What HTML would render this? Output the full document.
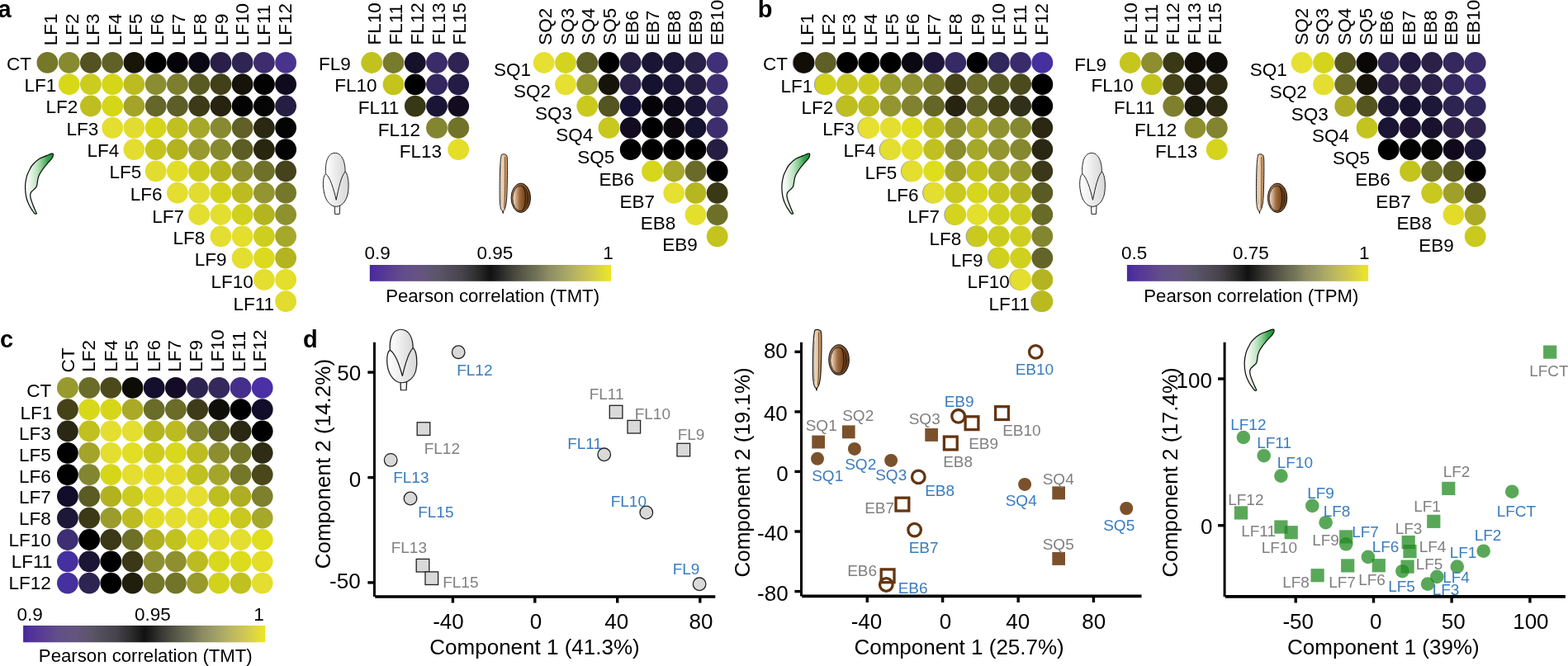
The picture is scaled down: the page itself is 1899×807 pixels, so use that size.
<!DOCTYPE html>
<html><head><meta charset="utf-8"><title>Figure</title>
<style>html,body{margin:0;padding:0;background:#fff;overflow:hidden}svg{display:block}</style>
</head><body><svg width="1899" height="807" viewBox="0 0 1899 807" font-family="'Liberation Sans', Arial, Helvetica, sans-serif"><defs><linearGradient id="cbg" x1="0" x2="1" y1="0" y2="0"><stop offset="0" stop-color="#4527A0"/><stop offset="0.03" stop-color="#50329A"/><stop offset="0.076" stop-color="#5A3C94"/><stop offset="0.144" stop-color="#624E89"/><stop offset="0.213" stop-color="#645480"/><stop offset="0.281" stop-color="#5B5568"/><stop offset="0.384" stop-color="#46434C"/><stop offset="0.452" stop-color="#2A2A2A"/><stop offset="0.5" stop-color="#111111"/><stop offset="0.528" stop-color="#1F201E"/><stop offset="0.57" stop-color="#383934"/><stop offset="0.612" stop-color="#4E4E42"/><stop offset="0.654" stop-color="#61634F"/><stop offset="0.696" stop-color="#737558"/><stop offset="0.738" stop-color="#8C8A62"/><stop offset="0.78" stop-color="#9A9A66"/><stop offset="0.822" stop-color="#ABAA65"/><stop offset="0.864" stop-color="#BDB860"/><stop offset="0.906" stop-color="#CCC455"/><stop offset="0.948" stop-color="#D9D445"/><stop offset="0.989" stop-color="#EBE32A"/><stop offset="1" stop-color="#EEE22A"/></linearGradient><linearGradient id="leafg" gradientUnits="userSpaceOnUse" x1="31" y1="0" x2="63" y2="0"><stop offset="0" stop-color="#ffffff"/><stop offset="0.15" stop-color="#eef8ee"/><stop offset="0.4" stop-color="#c4e5c6"/><stop offset="0.62" stop-color="#86cb90"/><stop offset="0.82" stop-color="#3aa952"/><stop offset="1" stop-color="#0f9a35"/></linearGradient><linearGradient id="flg" x1="0" x2="1" y1="0" y2="0"><stop offset="0" stop-color="#ffffff"/><stop offset="1" stop-color="#d8d8d8"/></linearGradient><linearGradient id="hullg" x1="0" x2="1" y1="0" y2="0"><stop offset="0" stop-color="#fbeee0"/><stop offset="0.5" stop-color="#e8c49c"/><stop offset="1" stop-color="#c89060"/></linearGradient><linearGradient id="seedg" x1="0" x2="1" y1="0" y2="0"><stop offset="0" stop-color="#f6e6d6"/><stop offset="0.45" stop-color="#a06a3c"/><stop offset="1" stop-color="#5a300c"/></linearGradient><linearGradient id="seedo" x1="0" x2="1" y1="0" y2="0"><stop offset="0" stop-color="#b08058"/><stop offset="1" stop-color="#6a3a12"/></linearGradient><linearGradient id="leafg3" gradientUnits="userSpaceOnUse" x1="31" y1="0" x2="64" y2="0"><stop offset="0" stop-color="#ffffff"/><stop offset="0.35" stop-color="#d8efd8"/><stop offset="1" stop-color="#119a33"/></linearGradient></defs><rect width="100%" height="100%" fill="#fff"/><g font-size="22.5"><text transform="translate(68.7,55.3) rotate(-90)">LF1</text><text transform="translate(94.5,55.3) rotate(-90)">LF2</text><text transform="translate(120.0,55.3) rotate(-90)">LF3</text><text transform="translate(146.8,55.3) rotate(-90)">LF4</text><text transform="translate(171.5,55.3) rotate(-90)">LF5</text><text transform="translate(198.3,55.3) rotate(-90)">LF6</text><text transform="translate(224.2,55.3) rotate(-90)">LF7</text><text transform="translate(250.1,55.3) rotate(-90)">LF8</text><text transform="translate(275.5,55.3) rotate(-90)">LF9</text><text transform="translate(301.4,55.3) rotate(-90)">LF10</text><text transform="translate(327.0,55.3) rotate(-90)">LF11</text><text transform="translate(352.9,55.3) rotate(-90)">LF12</text><text x="38.0" y="84.5" text-anchor="end">CT</text><circle cx="57.4" cy="75.9" r="12.9" fill="#767829"/><circle cx="83.7" cy="75.9" r="12.9" fill="#878A2E"/><circle cx="109.9" cy="75.9" r="12.9" fill="#535220"/><circle cx="136.2" cy="75.9" r="12.9" fill="#606126"/><circle cx="162.4" cy="75.9" r="12.9" fill="#181609"/><circle cx="188.7" cy="75.9" r="12.9" fill="#000000"/><circle cx="214.9" cy="75.9" r="12.9" fill="#050308"/><circle cx="241.2" cy="75.9" r="12.9" fill="#0B0815"/><circle cx="267.4" cy="75.9" r="12.9" fill="#2A1F48"/><circle cx="293.6" cy="75.9" r="12.9" fill="#2F2552"/><circle cx="319.9" cy="75.9" r="12.9" fill="#3D2D6E"/><circle cx="346.1" cy="75.9" r="12.9" fill="#48338F"/><text x="68.2" y="110.7" text-anchor="end">LF1</text><circle cx="83.7" cy="102.2" r="12.9" fill="#D8D819"/><circle cx="109.9" cy="102.2" r="12.9" fill="#CCCC20"/><circle cx="136.2" cy="102.2" r="12.9" fill="#D6D618"/><circle cx="162.4" cy="102.2" r="12.9" fill="#BCBC22"/><circle cx="188.7" cy="102.2" r="12.9" fill="#8B8E30"/><circle cx="214.9" cy="102.2" r="12.9" fill="#7D7F2E"/><circle cx="241.2" cy="102.2" r="12.9" fill="#595A22"/><circle cx="267.4" cy="102.2" r="12.9" fill="#414018"/><circle cx="293.6" cy="102.2" r="12.9" fill="#16140A"/><circle cx="319.9" cy="102.2" r="12.9" fill="#020202"/><circle cx="346.1" cy="102.2" r="12.9" fill="#100B1C"/><text x="94.3" y="136.9" text-anchor="end">LF2</text><circle cx="109.9" cy="128.5" r="12.9" fill="#BEBE20"/><circle cx="136.2" cy="128.5" r="12.9" fill="#D6D618"/><circle cx="162.4" cy="128.5" r="12.9" fill="#A3A429"/><circle cx="188.7" cy="128.5" r="12.9" fill="#64662A"/><circle cx="214.9" cy="128.5" r="12.9" fill="#5C5D27"/><circle cx="241.2" cy="128.5" r="12.9" fill="#3D3A17"/><circle cx="267.4" cy="128.5" r="12.9" fill="#26240F"/><circle cx="293.6" cy="128.5" r="12.9" fill="#030303"/><circle cx="319.9" cy="128.5" r="12.9" fill="#050505"/><circle cx="346.1" cy="128.5" r="12.9" fill="#261D42"/><text x="119.2" y="164.0" text-anchor="end">LF3</text><circle cx="136.2" cy="154.8" r="12.9" fill="#E4DE30"/><circle cx="162.4" cy="154.8" r="12.9" fill="#E2DC30"/><circle cx="188.7" cy="154.8" r="12.9" fill="#D5D51B"/><circle cx="214.9" cy="154.8" r="12.9" fill="#C0C021"/><circle cx="241.2" cy="154.8" r="12.9" fill="#A6A82A"/><circle cx="267.4" cy="154.8" r="12.9" fill="#878A30"/><circle cx="293.6" cy="154.8" r="12.9" fill="#606027"/><circle cx="319.9" cy="154.8" r="12.9" fill="#2A2812"/><circle cx="346.1" cy="154.8" r="12.9" fill="#040404"/><text x="144.4" y="190.2" text-anchor="end">LF4</text><circle cx="162.4" cy="181.1" r="12.9" fill="#E3DD30"/><circle cx="188.7" cy="181.1" r="12.9" fill="#C5C41F"/><circle cx="214.9" cy="181.1" r="12.9" fill="#B3B21F"/><circle cx="241.2" cy="181.1" r="12.9" fill="#999A2D"/><circle cx="267.4" cy="181.1" r="12.9" fill="#87892E"/><circle cx="293.6" cy="181.1" r="12.9" fill="#5C5C25"/><circle cx="319.9" cy="181.1" r="12.9" fill="#28260F"/><circle cx="346.1" cy="181.1" r="12.9" fill="#030303"/><text x="171.4" y="216.4" text-anchor="end">LF5</text><circle cx="188.7" cy="207.4" r="12.9" fill="#E2DC30"/><circle cx="214.9" cy="207.4" r="12.9" fill="#E2DE28"/><circle cx="241.2" cy="207.4" r="12.9" fill="#CDCC1E"/><circle cx="267.4" cy="207.4" r="12.9" fill="#B4B41E"/><circle cx="293.6" cy="207.4" r="12.9" fill="#8E8F2E"/><circle cx="319.9" cy="207.4" r="12.9" fill="#6F7029"/><circle cx="346.1" cy="207.4" r="12.9" fill="#45421C"/><text x="196.5" y="242.6" text-anchor="end">LF6</text><circle cx="214.9" cy="233.7" r="12.9" fill="#E4DE30"/><circle cx="241.2" cy="233.7" r="12.9" fill="#E2DC30"/><circle cx="267.4" cy="233.7" r="12.9" fill="#D2D21C"/><circle cx="293.6" cy="233.7" r="12.9" fill="#BCBC21"/><circle cx="319.9" cy="233.7" r="12.9" fill="#929530"/><circle cx="346.1" cy="233.7" r="12.9" fill="#767829"/><text x="223.1" y="269.8" text-anchor="end">LF7</text><circle cx="241.2" cy="260.0" r="12.9" fill="#E4DE30"/><circle cx="267.4" cy="260.0" r="12.9" fill="#E4DE30"/><circle cx="293.6" cy="260.0" r="12.9" fill="#D0D01E"/><circle cx="319.9" cy="260.0" r="12.9" fill="#B4B420"/><circle cx="346.1" cy="260.0" r="12.9" fill="#8E912E"/><text x="248.4" y="295.9" text-anchor="end">LF8</text><circle cx="267.4" cy="286.3" r="12.9" fill="#E4DE30"/><circle cx="293.6" cy="286.3" r="12.9" fill="#E4DE2C"/><circle cx="319.9" cy="286.3" r="12.9" fill="#CECE1F"/><circle cx="346.1" cy="286.3" r="12.9" fill="#A6A82A"/><text x="274.6" y="322.1" text-anchor="end">LF9</text><circle cx="293.6" cy="312.6" r="12.9" fill="#E4DE30"/><circle cx="319.9" cy="312.6" r="12.9" fill="#DCDA20"/><circle cx="346.1" cy="312.6" r="12.9" fill="#B4B420"/><text x="306.7" y="349.3" text-anchor="end">LF10</text><circle cx="319.9" cy="338.9" r="12.9" fill="#E4DE30"/><circle cx="346.1" cy="338.9" r="12.9" fill="#E4DE2C"/><text x="332.1" y="375.5" text-anchor="end">LF11</text><circle cx="346.1" cy="365.2" r="12.9" fill="#E2DC2C"/></g><g font-size="22.5"><text transform="translate(460.6,54.5) rotate(-90)">FL10</text><text transform="translate(487.0,54.5) rotate(-90)">FL11</text><text transform="translate(512.5,54.5) rotate(-90)">FL12</text><text transform="translate(538.5,54.5) rotate(-90)">FL13</text><text transform="translate(564.1,54.5) rotate(-90)">FL15</text><text x="424.7" y="84.8" text-anchor="end">FL9</text><circle cx="450.2" cy="76.0" r="12.9" fill="#C2C21E"/><circle cx="476.5" cy="76.0" r="12.9" fill="#787A2C"/><circle cx="502.8" cy="76.0" r="12.9" fill="#15112A"/><circle cx="529.0" cy="76.0" r="12.9" fill="#3A2C68"/><circle cx="555.2" cy="76.0" r="12.9" fill="#2E2352"/><text x="456.5" y="111.1" text-anchor="end">FL10</text><circle cx="476.5" cy="102.3" r="12.9" fill="#C4C41C"/><circle cx="502.8" cy="102.3" r="12.9" fill="#000000"/><circle cx="529.0" cy="102.3" r="12.9" fill="#33275E"/><circle cx="555.2" cy="102.3" r="12.9" fill="#241C45"/><text x="483.4" y="137.6" text-anchor="end">FL11</text><circle cx="502.8" cy="128.6" r="12.9" fill="#383716"/><circle cx="529.0" cy="128.6" r="12.9" fill="#1A1535"/><circle cx="555.2" cy="128.6" r="12.9" fill="#130C20"/><text x="509.0" y="164.5" text-anchor="end">FL12</text><circle cx="529.0" cy="154.9" r="12.9" fill="#848530"/><circle cx="555.2" cy="154.9" r="12.9" fill="#727329"/><text x="535.1" y="190.8" text-anchor="end">FL13</text><circle cx="555.2" cy="181.2" r="12.9" fill="#E4DE28"/></g><g font-size="22.5"><text transform="translate(668.0,54.7) rotate(-90)">SQ2</text><text transform="translate(694.5,54.7) rotate(-90)">SQ3</text><text transform="translate(720.3,54.7) rotate(-90)">SQ4</text><text transform="translate(746.2,54.7) rotate(-90)">SQ5</text><text transform="translate(772.6,54.9) rotate(-90)">EB6</text><text transform="translate(798.1,54.9) rotate(-90)">EB7</text><text transform="translate(824.3,54.9) rotate(-90)">EB8</text><text transform="translate(850.0,54.9) rotate(-90)">EB9</text><text transform="translate(875.8,54.9) rotate(-90)">EB10</text><text x="643.1" y="92.3" text-anchor="end">SQ1</text><circle cx="658.7" cy="76.0" r="12.9" fill="#E6E032"/><circle cx="685.0" cy="76.0" r="12.9" fill="#D4D41E"/><circle cx="711.2" cy="76.0" r="12.9" fill="#5E6027"/><circle cx="737.5" cy="76.0" r="12.9" fill="#000000"/><circle cx="763.7" cy="76.0" r="12.9" fill="#261E42"/><circle cx="790.0" cy="76.0" r="12.9" fill="#1A1535"/><circle cx="816.2" cy="76.0" r="12.9" fill="#1C1638"/><circle cx="842.5" cy="76.0" r="12.9" fill="#2A2148"/><circle cx="868.7" cy="76.0" r="12.9" fill="#40307A"/><text x="667.0" y="118.4" text-anchor="end">SQ2</text><circle cx="685.0" cy="102.3" r="12.9" fill="#E6E032"/><circle cx="711.2" cy="102.3" r="12.9" fill="#979A2D"/><circle cx="737.5" cy="102.3" r="12.9" fill="#16140A"/><circle cx="763.7" cy="102.3" r="12.9" fill="#2A2048"/><circle cx="790.0" cy="102.3" r="12.9" fill="#151230"/><circle cx="816.2" cy="102.3" r="12.9" fill="#1C1638"/><circle cx="842.5" cy="102.3" r="12.9" fill="#261E42"/><circle cx="868.7" cy="102.3" r="12.9" fill="#3D2E72"/><text x="693.0" y="144.7" text-anchor="end">SQ3</text><circle cx="711.2" cy="128.6" r="12.9" fill="#CACA1E"/><circle cx="737.5" cy="128.6" r="12.9" fill="#545520"/><circle cx="763.7" cy="128.6" r="12.9" fill="#161235"/><circle cx="790.0" cy="128.6" r="12.9" fill="#050307"/><circle cx="816.2" cy="128.6" r="12.9" fill="#100B1C"/><circle cx="842.5" cy="128.6" r="12.9" fill="#1A1535"/><circle cx="868.7" cy="128.6" r="12.9" fill="#3D2E6C"/><text x="718.3" y="171.4" text-anchor="end">SQ4</text><circle cx="737.5" cy="154.9" r="12.9" fill="#C8C81E"/><circle cx="763.7" cy="154.9" r="12.9" fill="#130B20"/><circle cx="790.0" cy="154.9" r="12.9" fill="#000000"/><circle cx="816.2" cy="154.9" r="12.9" fill="#0A080E"/><circle cx="842.5" cy="154.9" r="12.9" fill="#151232"/><circle cx="868.7" cy="154.9" r="12.9" fill="#3D2E70"/><text x="744.3" y="198.1" text-anchor="end">SQ5</text><circle cx="763.7" cy="181.2" r="12.9" fill="#000000"/><circle cx="790.0" cy="181.2" r="12.9" fill="#000000"/><circle cx="816.2" cy="181.2" r="12.9" fill="#000000"/><circle cx="842.5" cy="181.2" r="12.9" fill="#000000"/><circle cx="868.7" cy="181.2" r="12.9" fill="#261D42"/><text x="768.0" y="225.0" text-anchor="end">EB6</text><circle cx="790.0" cy="207.5" r="12.9" fill="#D6D61C"/><circle cx="816.2" cy="207.5" r="12.9" fill="#A8A82A"/><circle cx="842.5" cy="207.5" r="12.9" fill="#6A6B28"/><circle cx="868.7" cy="207.5" r="12.9" fill="#000000"/><text x="793.0" y="251.5" text-anchor="end">EB7</text><circle cx="816.2" cy="233.8" r="12.9" fill="#E6E032"/><circle cx="842.5" cy="233.8" r="12.9" fill="#B6B620"/><circle cx="868.7" cy="233.8" r="12.9" fill="#3A3916"/><text x="818.3" y="277.6" text-anchor="end">EB8</text><circle cx="842.5" cy="260.1" r="12.9" fill="#E4DE2C"/><circle cx="868.7" cy="260.1" r="12.9" fill="#6E7028"/><text x="844.9" y="303.5" text-anchor="end">EB9</text><circle cx="868.7" cy="286.4" r="12.9" fill="#C4C41E"/></g><g transform="translate(0,0) scale(1.0,1.0)"><path d="M64.40,187.00 C64.50,187.90 64.03,189.90 63.00,191.60 C61.97,193.30 59.57,195.60 58.20,197.20 C56.83,198.80 56.07,199.60 54.80,201.20 C53.53,202.80 51.78,205.07 50.60,206.80 C49.42,208.53 48.48,209.93 47.70,211.60 C46.92,213.27 46.33,215.05 45.90,216.80 C45.47,218.55 45.42,220.48 45.10,222.10 C44.78,223.72 44.68,225.25 44.00,226.50 C43.32,227.75 42.02,228.57 41.00,229.60 C39.98,230.63 38.62,231.63 37.90,232.70 C37.18,233.77 36.78,234.60 36.70,236.00 C36.62,237.40 36.85,239.03 37.40,241.10 C37.95,243.17 39.00,245.83 40.00,248.40 C41.00,250.97 42.68,254.80 43.40,256.50 C44.12,258.20 44.37,258.15 44.30,258.60 C44.23,259.05 43.52,259.33 43.00,259.20 C42.48,259.07 42.40,259.42 41.20,257.80 C40.00,256.18 37.37,252.63 35.80,249.50 C34.23,246.37 32.67,243.03 31.80,239.00 C30.93,234.97 30.50,229.52 30.60,225.30 C30.70,221.08 31.57,216.87 32.40,213.70 C33.23,210.53 34.47,208.58 35.60,206.30 C36.73,204.02 37.23,202.28 39.20,200.00 C41.17,197.72 44.47,194.53 47.40,192.60 C50.33,190.67 54.30,189.47 56.80,188.40 C59.30,187.33 61.13,186.43 62.40,186.20 C63.67,185.97 64.30,186.10 64.40,187.00 Z" fill="url(#leafg)" stroke="#111" stroke-width="1.25" stroke-linejoin="round"/></g><g transform="translate(0,0) scale(1.0,1.0)"><path d="M394.6,212 C393.6,200 395.5,186 405.2,185.4 C414.5,185 418.3,197 418.1,209 L407.2,242.3 Z" fill="url(#flg)" stroke="#222" stroke-width="1.00"/><path d="M405.2,249.5 L405.6,259.4 L411.2,259.4 L411.7,249.5 Z" fill="#f6f6f6" stroke="#222" stroke-width="1.00"/><path d="M394.5,210.6 C390.0,214 390.5,232 395.0,241 C398.2,247.5 403.0,250.5 407.5,250.3 C413.0,250 419.0,245 421.2,235 C423.0,225 422.0,212 418.3,207.9 C413.5,212.5 410.0,228 407.2,242.3 C404.2,229 399.5,214 394.5,210.6 Z" fill="url(#flg)" stroke="#222" stroke-width="1.00"/></g><g transform="translate(0,0)"><g transform="translate(605,186.8) scale(1.0000,1.0000) translate(-605,-186.8)"><path d="M607.3,187.6 C608.6,186.3 612.2,186.4 613.9,188.6 C614.9,191.5 614.6,215 613.9,236 C613.4,248 611.8,253.8 609.6,255.8 L609.2,258.6 L608.7,255.9 C606.4,254.8 605.3,249 605.2,238 C605.0,218 605.4,196 607.3,187.6 Z" fill="url(#hullg)" stroke="#1a1a1a" stroke-width="1.00"/><path d="M611.6,190 C611.9,210 611.8,235 610.8,252" fill="none" stroke="#3a2a1a" stroke-width="0.70"/><path d="M606.8,200 C606.5,215 606.6,235 607.0,248" fill="none" stroke="#777" stroke-width="0.50"/></g><ellipse cx="630.8" cy="239.8" rx="11.70" ry="17.75" fill="url(#seedo)" stroke="#1a1a1a" stroke-width="1.00"/><ellipse cx="630.20" cy="240.40" rx="9.32" ry="15.25" fill="url(#seedg)" stroke="#1a1a1a" stroke-width="0.80"/><path d="M633.46,225.64 C637.45,232.54 637.45,247.97 632.98,254.86" fill="none" stroke="#1a0e04" stroke-width="0.80"/></g><rect x="447.8" y="321" width="292.2" height="19.8" fill="url(#cbg)"/><text x="457.2" y="313.8" text-anchor="middle" font-size="22.5">0.9</text><text x="599.5" y="313.8" text-anchor="middle" font-size="22.5">0.95</text><text x="736.5" y="313.8" text-anchor="middle" font-size="22.5">1</text><text x="596.6" y="365.8" text-anchor="middle" font-size="22.2">Pearson correlation (TMT)</text><g font-size="22.5"><text transform="translate(984.7,55.3) rotate(-90)">LF1</text><text transform="translate(1010.6,55.3) rotate(-90)">LF2</text><text transform="translate(1036.0,55.3) rotate(-90)">LF3</text><text transform="translate(1061.8,55.3) rotate(-90)">LF4</text><text transform="translate(1087.5,55.3) rotate(-90)">LF5</text><text transform="translate(1113.3,55.3) rotate(-90)">LF6</text><text transform="translate(1139.2,55.3) rotate(-90)">LF7</text><text transform="translate(1165.0,55.3) rotate(-90)">LF8</text><text transform="translate(1191.5,55.3) rotate(-90)">LF9</text><text transform="translate(1217.3,55.3) rotate(-90)">LF10</text><text transform="translate(1243.0,55.3) rotate(-90)">LF11</text><text transform="translate(1268.8,55.3) rotate(-90)">LF12</text><text x="954.0" y="84.5" text-anchor="end">CT</text><circle cx="972.5" cy="75.9" r="12.9" fill="#a0a0a0"/><circle cx="973.6" cy="75.9" r="12.9" fill="#110E08"/><circle cx="999.9" cy="75.9" r="12.9" fill="#5F6027"/><circle cx="1026.1" cy="75.9" r="12.9" fill="#000000"/><circle cx="1052.3" cy="75.9" r="12.9" fill="#000000"/><circle cx="1078.6" cy="75.9" r="12.9" fill="#000000"/><circle cx="1104.8" cy="75.9" r="12.9" fill="#0A0810"/><circle cx="1131.1" cy="75.9" r="12.9" fill="#1E163A"/><circle cx="1157.3" cy="75.9" r="12.9" fill="#362A66"/><circle cx="1183.6" cy="75.9" r="12.9" fill="#000000"/><circle cx="1209.8" cy="75.9" r="12.9" fill="#30275C"/><circle cx="1236.1" cy="75.9" r="12.9" fill="#3A2C6C"/><circle cx="1262.3" cy="75.9" r="12.9" fill="#4530A0"/><text x="984.3" y="111.7" text-anchor="end">LF1</text><circle cx="998.8" cy="102.2" r="12.9" fill="#a0a0a0"/><circle cx="999.9" cy="102.2" r="12.9" fill="#D2D21C"/><circle cx="1026.1" cy="102.2" r="12.9" fill="#C8C820"/><circle cx="1052.3" cy="102.2" r="12.9" fill="#CACA1E"/><circle cx="1078.6" cy="102.2" r="12.9" fill="#9C9E2C"/><circle cx="1104.8" cy="102.2" r="12.9" fill="#909230"/><circle cx="1131.1" cy="102.2" r="12.9" fill="#7C7E2C"/><circle cx="1157.3" cy="102.2" r="12.9" fill="#444219"/><circle cx="1183.6" cy="102.2" r="12.9" fill="#6A6C28"/><circle cx="1209.8" cy="102.2" r="12.9" fill="#5A5C24"/><circle cx="1236.1" cy="102.2" r="12.9" fill="#4A4A1C"/><circle cx="1262.3" cy="102.2" r="12.9" fill="#000000"/><text x="1009.3" y="137.9" text-anchor="end">LF2</text><circle cx="1025.0" cy="128.5" r="12.9" fill="#a0a0a0"/><circle cx="1026.1" cy="128.5" r="12.9" fill="#BEBE21"/><circle cx="1052.3" cy="128.5" r="12.9" fill="#BCBC22"/><circle cx="1078.6" cy="128.5" r="12.9" fill="#939630"/><circle cx="1104.8" cy="128.5" r="12.9" fill="#808230"/><circle cx="1131.1" cy="128.5" r="12.9" fill="#646628"/><circle cx="1157.3" cy="128.5" r="12.9" fill="#262410"/><circle cx="1183.6" cy="128.5" r="12.9" fill="#5E6026"/><circle cx="1209.8" cy="128.5" r="12.9" fill="#3E3D18"/><circle cx="1236.1" cy="128.5" r="12.9" fill="#30301A"/><circle cx="1262.3" cy="128.5" r="12.9" fill="#000000"/><text x="1035.1" y="164.0" text-anchor="end">LF3</text><circle cx="1051.2" cy="154.8" r="12.9" fill="#a0a0a0"/><circle cx="1052.3" cy="154.8" r="12.9" fill="#E8E030"/><circle cx="1078.6" cy="154.8" r="12.9" fill="#E4DE30"/><circle cx="1104.8" cy="154.8" r="12.9" fill="#DEDC1E"/><circle cx="1131.1" cy="154.8" r="12.9" fill="#BEBE20"/><circle cx="1157.3" cy="154.8" r="12.9" fill="#8C8E2E"/><circle cx="1183.6" cy="154.8" r="12.9" fill="#A8AA28"/><circle cx="1209.8" cy="154.8" r="12.9" fill="#8E9230"/><circle cx="1236.1" cy="154.8" r="12.9" fill="#848830"/><circle cx="1262.3" cy="154.8" r="12.9" fill="#2A2812"/><text x="1060.4" y="190.2" text-anchor="end">LF4</text><circle cx="1077.5" cy="181.1" r="12.9" fill="#a0a0a0"/><circle cx="1078.6" cy="181.1" r="12.9" fill="#E4DE30"/><circle cx="1104.8" cy="181.1" r="12.9" fill="#E2DC2A"/><circle cx="1131.1" cy="181.1" r="12.9" fill="#C0C020"/><circle cx="1157.3" cy="181.1" r="12.9" fill="#8A8C2E"/><circle cx="1183.6" cy="181.1" r="12.9" fill="#A6A82A"/><circle cx="1209.8" cy="181.1" r="12.9" fill="#929530"/><circle cx="1236.1" cy="181.1" r="12.9" fill="#868830"/><circle cx="1262.3" cy="181.1" r="12.9" fill="#2A2812"/><text x="1086.4" y="217.4" text-anchor="end">LF5</text><circle cx="1103.8" cy="207.4" r="12.9" fill="#a0a0a0"/><circle cx="1104.8" cy="207.4" r="12.9" fill="#E4DE30"/><circle cx="1131.1" cy="207.4" r="12.9" fill="#DEDE1C"/><circle cx="1157.3" cy="207.4" r="12.9" fill="#A2A42A"/><circle cx="1183.6" cy="207.4" r="12.9" fill="#C4C41E"/><circle cx="1209.8" cy="207.4" r="12.9" fill="#A6A82A"/><circle cx="1236.1" cy="207.4" r="12.9" fill="#989A2C"/><circle cx="1262.3" cy="207.4" r="12.9" fill="#3A3818"/><text x="1112.5" y="243.6" text-anchor="end">LF6</text><circle cx="1130.0" cy="233.7" r="12.9" fill="#a0a0a0"/><circle cx="1131.1" cy="233.7" r="12.9" fill="#E4DE30"/><circle cx="1157.3" cy="233.7" r="12.9" fill="#C8C81E"/><circle cx="1183.6" cy="233.7" r="12.9" fill="#D6D61C"/><circle cx="1209.8" cy="233.7" r="12.9" fill="#C6C61E"/><circle cx="1236.1" cy="233.7" r="12.9" fill="#B6B620"/><circle cx="1262.3" cy="233.7" r="12.9" fill="#5A5A24"/><text x="1138.1" y="269.8" text-anchor="end">LF7</text><circle cx="1156.2" cy="260.0" r="12.9" fill="#a0a0a0"/><circle cx="1157.3" cy="260.0" r="12.9" fill="#D4D41E"/><circle cx="1183.6" cy="260.0" r="12.9" fill="#E4DE2C"/><circle cx="1209.8" cy="260.0" r="12.9" fill="#D0D01E"/><circle cx="1236.1" cy="260.0" r="12.9" fill="#CECE20"/><circle cx="1262.3" cy="260.0" r="12.9" fill="#686A28"/><text x="1164.4" y="296.9" text-anchor="end">LF8</text><circle cx="1182.5" cy="286.3" r="12.9" fill="#a0a0a0"/><circle cx="1183.6" cy="286.3" r="12.9" fill="#CACA1E"/><circle cx="1209.8" cy="286.3" r="12.9" fill="#CCCC1E"/><circle cx="1236.1" cy="286.3" r="12.9" fill="#CECE20"/><circle cx="1262.3" cy="286.3" r="12.9" fill="#838630"/><text x="1190.6" y="323.1" text-anchor="end">LF9</text><circle cx="1208.8" cy="312.6" r="12.9" fill="#a0a0a0"/><circle cx="1209.8" cy="312.6" r="12.9" fill="#D0D01E"/><circle cx="1236.1" cy="312.6" r="12.9" fill="#D0D01E"/><circle cx="1262.3" cy="312.6" r="12.9" fill="#636528"/><text x="1222.7" y="349.3" text-anchor="end">LF10</text><circle cx="1235.0" cy="338.9" r="12.9" fill="#a0a0a0"/><circle cx="1236.1" cy="338.9" r="12.9" fill="#E4DE30"/><circle cx="1262.3" cy="338.9" r="12.9" fill="#B4B420"/><text x="1247.1" y="375.5" text-anchor="end">LF11</text><circle cx="1261.2" cy="365.2" r="12.9" fill="#a0a0a0"/><circle cx="1262.3" cy="365.2" r="12.9" fill="#BABA20"/></g><g font-size="22.5"><text transform="translate(1376.8,54.5) rotate(-90)">FL10</text><text transform="translate(1402.3,54.5) rotate(-90)">FL11</text><text transform="translate(1427.8,54.5) rotate(-90)">FL12</text><text transform="translate(1453.8,54.5) rotate(-90)">FL13</text><text transform="translate(1479.4,54.5) rotate(-90)">FL15</text><text x="1340.0" y="85.8" text-anchor="end">FL9</text><circle cx="1368.8" cy="76.0" r="12.9" fill="#C6C61E"/><circle cx="1395.0" cy="76.0" r="12.9" fill="#8C8E30"/><circle cx="1421.2" cy="76.0" r="12.9" fill="#3A3916"/><circle cx="1447.5" cy="76.0" r="12.9" fill="#110F08"/><circle cx="1473.8" cy="76.0" r="12.9" fill="#100E08"/><text x="1372.8" y="111.1" text-anchor="end">FL10</text><circle cx="1395.0" cy="102.3" r="12.9" fill="#C4C41E"/><circle cx="1421.2" cy="102.3" r="12.9" fill="#454419"/><circle cx="1447.5" cy="102.3" r="12.9" fill="#1C1A0C"/><circle cx="1473.8" cy="102.3" r="12.9" fill="#2C2A12"/><text x="1398.6" y="137.6" text-anchor="end">FL11</text><circle cx="1421.2" cy="128.6" r="12.9" fill="#7E802E"/><circle cx="1447.5" cy="128.6" r="12.9" fill="#1C1A0C"/><circle cx="1473.8" cy="128.6" r="12.9" fill="#2C2A12"/><text x="1425.3" y="164.5" text-anchor="end">FL12</text><circle cx="1447.5" cy="154.9" r="12.9" fill="#8E9030"/><circle cx="1473.8" cy="154.9" r="12.9" fill="#828430"/><text x="1450.3" y="190.8" text-anchor="end">FL13</text><circle cx="1473.8" cy="181.2" r="12.9" fill="#D4D41C"/></g><g font-size="22.5"><text transform="translate(1583.8,54.7) rotate(-90)">SQ2</text><text transform="translate(1609.2,54.7) rotate(-90)">SQ3</text><text transform="translate(1636.1,54.7) rotate(-90)">SQ4</text><text transform="translate(1662.0,54.7) rotate(-90)">SQ5</text><text transform="translate(1687.4,54.9) rotate(-90)">EB6</text><text transform="translate(1713.8,54.9) rotate(-90)">EB7</text><text transform="translate(1740.1,54.9) rotate(-90)">EB8</text><text transform="translate(1764.8,54.9) rotate(-90)">EB9</text><text transform="translate(1791.6,54.9) rotate(-90)">EB10</text><text x="1558.9" y="92.3" text-anchor="end">SQ1</text><circle cx="1576.7" cy="76.0" r="12.9" fill="#E6E032"/><circle cx="1603.0" cy="76.0" r="12.9" fill="#D4D41C"/><circle cx="1629.2" cy="76.0" r="12.9" fill="#555520"/><circle cx="1655.5" cy="76.0" r="12.9" fill="#0A0806"/><circle cx="1681.7" cy="76.0" r="12.9" fill="#2E2452"/><circle cx="1708.0" cy="76.0" r="12.9" fill="#221A40"/><circle cx="1734.2" cy="76.0" r="12.9" fill="#2A2048"/><circle cx="1760.5" cy="76.0" r="12.9" fill="#34285E"/><circle cx="1786.7" cy="76.0" r="12.9" fill="#3A2C6A"/><text x="1582.8" y="119.4" text-anchor="end">SQ2</text><circle cx="1603.0" cy="102.3" r="12.9" fill="#E4DE30"/><circle cx="1629.2" cy="102.3" r="12.9" fill="#6C6E28"/><circle cx="1655.5" cy="102.3" r="12.9" fill="#16140A"/><circle cx="1681.7" cy="102.3" r="12.9" fill="#2A2048"/><circle cx="1708.0" cy="102.3" r="12.9" fill="#2A1F45"/><circle cx="1734.2" cy="102.3" r="12.9" fill="#2A2048"/><circle cx="1760.5" cy="102.3" r="12.9" fill="#34285E"/><circle cx="1786.7" cy="102.3" r="12.9" fill="#3A2C6C"/><text x="1608.8" y="145.7" text-anchor="end">SQ3</text><circle cx="1629.2" cy="128.6" r="12.9" fill="#ACAC24"/><circle cx="1655.5" cy="128.6" r="12.9" fill="#555520"/><circle cx="1681.7" cy="128.6" r="12.9" fill="#1E1838"/><circle cx="1708.0" cy="128.6" r="12.9" fill="#161230"/><circle cx="1734.2" cy="128.6" r="12.9" fill="#1E1838"/><circle cx="1760.5" cy="128.6" r="12.9" fill="#2E2452"/><circle cx="1786.7" cy="128.6" r="12.9" fill="#30275A"/><text x="1634.0" y="172.4" text-anchor="end">SQ4</text><circle cx="1655.5" cy="154.9" r="12.9" fill="#C4C41E"/><circle cx="1681.7" cy="154.9" r="12.9" fill="#1A1535"/><circle cx="1708.0" cy="154.9" r="12.9" fill="#1A1230"/><circle cx="1734.2" cy="154.9" r="12.9" fill="#18122E"/><circle cx="1760.5" cy="154.9" r="12.9" fill="#2A2048"/><circle cx="1786.7" cy="154.9" r="12.9" fill="#30244E"/><text x="1659.1" y="199.1" text-anchor="end">SQ5</text><circle cx="1681.7" cy="181.2" r="12.9" fill="#000000"/><circle cx="1708.0" cy="181.2" r="12.9" fill="#030303"/><circle cx="1734.2" cy="181.2" r="12.9" fill="#050505"/><circle cx="1760.5" cy="181.2" r="12.9" fill="#120A1C"/><circle cx="1786.7" cy="181.2" r="12.9" fill="#1C1638"/><text x="1683.8" y="225.0" text-anchor="end">EB6</text><circle cx="1708.0" cy="207.5" r="12.9" fill="#C4C41E"/><circle cx="1734.2" cy="207.5" r="12.9" fill="#737529"/><circle cx="1760.5" cy="207.5" r="12.9" fill="#5A5A22"/><circle cx="1786.7" cy="207.5" r="12.9" fill="#000000"/><text x="1708.8" y="251.5" text-anchor="end">EB7</text><circle cx="1734.2" cy="233.8" r="12.9" fill="#C8C81E"/><circle cx="1760.5" cy="233.8" r="12.9" fill="#9FA02A"/><circle cx="1786.7" cy="233.8" r="12.9" fill="#50501E"/><text x="1734.0" y="277.6" text-anchor="end">EB8</text><circle cx="1760.5" cy="260.1" r="12.9" fill="#E2DC28"/><circle cx="1786.7" cy="260.1" r="12.9" fill="#ACAC24"/><text x="1760.7" y="304.5" text-anchor="end">EB9</text><circle cx="1786.7" cy="286.4" r="12.9" fill="#CACA1E"/></g><g transform="translate(916.3,0) scale(1.0,1.0)"><path d="M64.40,187.00 C64.50,187.90 64.03,189.90 63.00,191.60 C61.97,193.30 59.57,195.60 58.20,197.20 C56.83,198.80 56.07,199.60 54.80,201.20 C53.53,202.80 51.78,205.07 50.60,206.80 C49.42,208.53 48.48,209.93 47.70,211.60 C46.92,213.27 46.33,215.05 45.90,216.80 C45.47,218.55 45.42,220.48 45.10,222.10 C44.78,223.72 44.68,225.25 44.00,226.50 C43.32,227.75 42.02,228.57 41.00,229.60 C39.98,230.63 38.62,231.63 37.90,232.70 C37.18,233.77 36.78,234.60 36.70,236.00 C36.62,237.40 36.85,239.03 37.40,241.10 C37.95,243.17 39.00,245.83 40.00,248.40 C41.00,250.97 42.68,254.80 43.40,256.50 C44.12,258.20 44.37,258.15 44.30,258.60 C44.23,259.05 43.52,259.33 43.00,259.20 C42.48,259.07 42.40,259.42 41.20,257.80 C40.00,256.18 37.37,252.63 35.80,249.50 C34.23,246.37 32.67,243.03 31.80,239.00 C30.93,234.97 30.50,229.52 30.60,225.30 C30.70,221.08 31.57,216.87 32.40,213.70 C33.23,210.53 34.47,208.58 35.60,206.30 C36.73,204.02 37.23,202.28 39.20,200.00 C41.17,197.72 44.47,194.53 47.40,192.60 C50.33,190.67 54.30,189.47 56.80,188.40 C59.30,187.33 61.13,186.43 62.40,186.20 C63.67,185.97 64.30,186.10 64.40,187.00 Z" fill="url(#leafg)" stroke="#111" stroke-width="1.25" stroke-linejoin="round"/></g><g transform="translate(916.3,0) scale(1.0,1.0)"><path d="M394.6,212 C393.6,200 395.5,186 405.2,185.4 C414.5,185 418.3,197 418.1,209 L407.2,242.3 Z" fill="url(#flg)" stroke="#222" stroke-width="1.00"/><path d="M405.2,249.5 L405.6,259.4 L411.2,259.4 L411.7,249.5 Z" fill="#f6f6f6" stroke="#222" stroke-width="1.00"/><path d="M394.5,210.6 C390.0,214 390.5,232 395.0,241 C398.2,247.5 403.0,250.5 407.5,250.3 C413.0,250 419.0,245 421.2,235 C423.0,225 422.0,212 418.3,207.9 C413.5,212.5 410.0,228 407.2,242.3 C404.2,229 399.5,214 394.5,210.6 Z" fill="url(#flg)" stroke="#222" stroke-width="1.00"/></g><g transform="translate(916.3,0)"><g transform="translate(605,186.8) scale(1.0000,1.0000) translate(-605,-186.8)"><path d="M607.3,187.6 C608.6,186.3 612.2,186.4 613.9,188.6 C614.9,191.5 614.6,215 613.9,236 C613.4,248 611.8,253.8 609.6,255.8 L609.2,258.6 L608.7,255.9 C606.4,254.8 605.3,249 605.2,238 C605.0,218 605.4,196 607.3,187.6 Z" fill="url(#hullg)" stroke="#1a1a1a" stroke-width="1.00"/><path d="M611.6,190 C611.9,210 611.8,235 610.8,252" fill="none" stroke="#3a2a1a" stroke-width="0.70"/><path d="M606.8,200 C606.5,215 606.6,235 607.0,248" fill="none" stroke="#777" stroke-width="0.50"/></g><ellipse cx="630.8" cy="239.8" rx="11.70" ry="17.75" fill="url(#seedo)" stroke="#1a1a1a" stroke-width="1.00"/><ellipse cx="630.20" cy="240.40" rx="9.32" ry="15.25" fill="url(#seedg)" stroke="#1a1a1a" stroke-width="0.80"/><path d="M633.46,225.64 C637.45,232.54 637.45,247.97 632.98,254.86" fill="none" stroke="#1a0e04" stroke-width="0.80"/></g><rect x="1364.9" y="321" width="292.2" height="19.8" fill="url(#cbg)"/><text x="1373.7" y="314.0" text-anchor="middle" font-size="22.5">0.5</text><text x="1514.8" y="314.0" text-anchor="middle" font-size="22.5">0.75</text><text x="1652.2" y="314.0" text-anchor="middle" font-size="22.5">1</text><text x="1515.4" y="366.0" text-anchor="middle" font-size="22.2">Pearson correlation (TPM)</text><g font-size="22.5"><text transform="translate(89.8,451.6) rotate(-90)">CT</text><text transform="translate(115.4,450.8) rotate(-90)">LF2</text><text transform="translate(142.0,450.8) rotate(-90)">LF4</text><text transform="translate(167.2,450.8) rotate(-90)">LF5</text><text transform="translate(193.8,450.8) rotate(-90)">LF6</text><text transform="translate(219.2,450.8) rotate(-90)">LF7</text><text transform="translate(245.0,450.8) rotate(-90)">LF9</text><text transform="translate(271.4,450.8) rotate(-90)">LF10</text><text transform="translate(296.8,450.8) rotate(-90)">LF11</text><text transform="translate(322.4,450.8) rotate(-90)">LF12</text><text x="62.3" y="480.9" text-anchor="end">CT</text><circle cx="81.9" cy="469.9" r="12.9" fill="#979A2D"/><circle cx="108.1" cy="469.9" r="12.9" fill="#6A6C28"/><circle cx="134.3" cy="469.9" r="12.9" fill="#4C4A1C"/><circle cx="160.5" cy="469.9" r="12.9" fill="#0E0C06"/><circle cx="186.7" cy="469.9" r="12.9" fill="#140F2E"/><circle cx="212.9" cy="469.9" r="12.9" fill="#140C26"/><circle cx="239.1" cy="469.9" r="12.9" fill="#2E2452"/><circle cx="265.3" cy="469.9" r="12.9" fill="#34285C"/><circle cx="291.5" cy="469.9" r="12.9" fill="#44308A"/><circle cx="317.7" cy="469.9" r="12.9" fill="#4A30A4"/><text x="63.3" y="508.0" text-anchor="end">LF1</text><circle cx="81.9" cy="496.2" r="12.9" fill="#45421A"/><circle cx="108.1" cy="496.2" r="12.9" fill="#D8D81A"/><circle cx="134.3" cy="496.2" r="12.9" fill="#D6D618"/><circle cx="160.5" cy="496.2" r="12.9" fill="#AAAA26"/><circle cx="186.7" cy="496.2" r="12.9" fill="#6A6C28"/><circle cx="212.9" cy="496.2" r="12.9" fill="#6A6C28"/><circle cx="239.1" cy="496.2" r="12.9" fill="#3E3C18"/><circle cx="265.3" cy="496.2" r="12.9" fill="#100E08"/><circle cx="291.5" cy="496.2" r="12.9" fill="#000000"/><circle cx="317.7" cy="496.2" r="12.9" fill="#120D28"/><text x="61.7" y="532.7" text-anchor="end">LF3</text><circle cx="81.9" cy="522.5" r="12.9" fill="#2A2812"/><circle cx="108.1" cy="522.5" r="12.9" fill="#C0C021"/><circle cx="134.3" cy="522.5" r="12.9" fill="#E4DE30"/><circle cx="160.5" cy="522.5" r="12.9" fill="#E4DE30"/><circle cx="186.7" cy="522.5" r="12.9" fill="#B4B420"/><circle cx="212.9" cy="522.5" r="12.9" fill="#BCBC22"/><circle cx="239.1" cy="522.5" r="12.9" fill="#858830"/><circle cx="265.3" cy="522.5" r="12.9" fill="#5A5C24"/><circle cx="291.5" cy="522.5" r="12.9" fill="#2A2812"/><circle cx="317.7" cy="522.5" r="12.9" fill="#000000"/><text x="61.7" y="559.2" text-anchor="end">LF5</text><circle cx="81.9" cy="548.8" r="12.9" fill="#000000"/><circle cx="108.1" cy="548.8" r="12.9" fill="#A4A42A"/><circle cx="134.3" cy="548.8" r="12.9" fill="#E4DE30"/><circle cx="160.5" cy="548.8" r="12.9" fill="#E2DE26"/><circle cx="186.7" cy="548.8" r="12.9" fill="#CCCC1E"/><circle cx="212.9" cy="548.8" r="12.9" fill="#D8D81C"/><circle cx="239.1" cy="548.8" r="12.9" fill="#BCBC22"/><circle cx="265.3" cy="548.8" r="12.9" fill="#8C8E30"/><circle cx="291.5" cy="548.8" r="12.9" fill="#747629"/><circle cx="317.7" cy="548.8" r="12.9" fill="#2E2C14"/><text x="61.7" y="585.1" text-anchor="end">LF6</text><circle cx="81.9" cy="575.1" r="12.9" fill="#000000"/><circle cx="108.1" cy="575.1" r="12.9" fill="#838630"/><circle cx="134.3" cy="575.1" r="12.9" fill="#D6D618"/><circle cx="160.5" cy="575.1" r="12.9" fill="#E4DE30"/><circle cx="186.7" cy="575.1" r="12.9" fill="#E2DC28"/><circle cx="212.9" cy="575.1" r="12.9" fill="#E2DC28"/><circle cx="239.1" cy="575.1" r="12.9" fill="#C0C021"/><circle cx="265.3" cy="575.1" r="12.9" fill="#A4A62A"/><circle cx="291.5" cy="575.1" r="12.9" fill="#747629"/><circle cx="317.7" cy="575.1" r="12.9" fill="#4A481A"/><text x="61.7" y="610.4" text-anchor="end">LF7</text><circle cx="81.9" cy="601.4" r="12.9" fill="#120D2A"/><circle cx="108.1" cy="601.4" r="12.9" fill="#5A5C24"/><circle cx="134.3" cy="601.4" r="12.9" fill="#B2B21F"/><circle cx="160.5" cy="601.4" r="12.9" fill="#CCCC20"/><circle cx="186.7" cy="601.4" r="12.9" fill="#E2DC28"/><circle cx="212.9" cy="601.4" r="12.9" fill="#E4DE30"/><circle cx="239.1" cy="601.4" r="12.9" fill="#E4DE30"/><circle cx="265.3" cy="601.4" r="12.9" fill="#BEBE20"/><circle cx="291.5" cy="601.4" r="12.9" fill="#AEAE24"/><circle cx="317.7" cy="601.4" r="12.9" fill="#7E802E"/><text x="61.7" y="636.3" text-anchor="end">LF8</text><circle cx="81.9" cy="627.7" r="12.9" fill="#1E1838"/><circle cx="108.1" cy="627.7" r="12.9" fill="#3C3A16"/><circle cx="134.3" cy="627.7" r="12.9" fill="#9A9C2C"/><circle cx="160.5" cy="627.7" r="12.9" fill="#BCBC22"/><circle cx="186.7" cy="627.7" r="12.9" fill="#E2DC28"/><circle cx="212.9" cy="627.7" r="12.9" fill="#E4DE30"/><circle cx="239.1" cy="627.7" r="12.9" fill="#E4DE30"/><circle cx="265.3" cy="627.7" r="12.9" fill="#DEDE1C"/><circle cx="291.5" cy="627.7" r="12.9" fill="#C8C81E"/><circle cx="317.7" cy="627.7" r="12.9" fill="#A6A82A"/><text x="61.7" y="662.2" text-anchor="end">LF10</text><circle cx="81.9" cy="654.0" r="12.9" fill="#3E2E74"/><circle cx="108.1" cy="654.0" r="12.9" fill="#000000"/><circle cx="134.3" cy="654.0" r="12.9" fill="#3A3816"/><circle cx="160.5" cy="654.0" r="12.9" fill="#6E7028"/><circle cx="186.7" cy="654.0" r="12.9" fill="#B0B022"/><circle cx="212.9" cy="654.0" r="12.9" fill="#C2C21E"/><circle cx="239.1" cy="654.0" r="12.9" fill="#E2DE26"/><circle cx="265.3" cy="654.0" r="12.9" fill="#E4DE30"/><circle cx="291.5" cy="654.0" r="12.9" fill="#E4DE30"/><circle cx="317.7" cy="654.0" r="12.9" fill="#E0DE1E"/><text x="63.3" y="688.1" text-anchor="end">LF11</text><circle cx="81.9" cy="680.3" r="12.9" fill="#4530A0"/><circle cx="108.1" cy="680.3" r="12.9" fill="#1C1636"/><circle cx="134.3" cy="680.3" r="12.9" fill="#000000"/><circle cx="160.5" cy="680.3" r="12.9" fill="#3A3816"/><circle cx="186.7" cy="680.3" r="12.9" fill="#8E9030"/><circle cx="212.9" cy="680.3" r="12.9" fill="#8E9030"/><circle cx="239.1" cy="680.3" r="12.9" fill="#BCBC22"/><circle cx="265.3" cy="680.3" r="12.9" fill="#D8D81C"/><circle cx="291.5" cy="680.3" r="12.9" fill="#DCDC1C"/><circle cx="317.7" cy="680.3" r="12.9" fill="#E4DE28"/><text x="61.7" y="714.0" text-anchor="end">LF12</text><circle cx="81.9" cy="706.6" r="12.9" fill="#4530A0"/><circle cx="108.1" cy="706.6" r="12.9" fill="#2E2452"/><circle cx="134.3" cy="706.6" r="12.9" fill="#000000"/><circle cx="160.5" cy="706.6" r="12.9" fill="#201E0C"/><circle cx="186.7" cy="706.6" r="12.9" fill="#747629"/><circle cx="212.9" cy="706.6" r="12.9" fill="#727429"/><circle cx="239.1" cy="706.6" r="12.9" fill="#989A2C"/><circle cx="265.3" cy="706.6" r="12.9" fill="#D2D21C"/><circle cx="291.5" cy="706.6" r="12.9" fill="#C0C021"/><circle cx="317.7" cy="706.6" r="12.9" fill="#E4DE30"/></g><rect x="28.1" y="758" width="293.3" height="20.3" fill="url(#cbg)"/><text x="36.1" y="751.5" text-anchor="middle" font-size="22.5">0.9</text><text x="184.8" y="751.5" text-anchor="middle" font-size="22.5">0.95</text><text x="313.6" y="751.5" text-anchor="middle" font-size="22.5">1</text><text x="176.3" y="802.4" text-anchor="middle" font-size="22.2">Pearson correlation (TMT)</text><text x="-2.6" y="21.2" font-size="29" font-weight="bold">a</text><text x="917.7" y="21.0" font-size="29" font-weight="bold">b</text><text x="-0.1" y="421.3" font-size="29" font-weight="bold">c</text><text x="366.9" y="420.8" font-size="29" font-weight="bold">d</text><line x1="453.45" y1="414.7" x2="453.45" y2="722.95" stroke="#000" stroke-width="3"/><line x1="454.25" y1="722.95" x2="866.3" y2="722.95" stroke="#000" stroke-width="3.6"/><line x1="445.34999999999997" y1="451.1" x2="453.45" y2="451.1" stroke="#000" stroke-width="3.4"/><text x="437.1" y="460.5" text-anchor="end" font-size="26">50</text><line x1="445.34999999999997" y1="578.6" x2="453.45" y2="578.6" stroke="#000" stroke-width="3.4"/><text x="437.1" y="590.0" text-anchor="end" font-size="26">0</text><line x1="445.34999999999997" y1="705.9" x2="453.45" y2="705.9" stroke="#000" stroke-width="3.4"/><text x="436.7" y="712.9" text-anchor="end" font-size="26">-50</text><line x1="548.4" y1="722.95" x2="548.4" y2="730.5500000000001" stroke="#000" stroke-width="3.4"/><text x="543.0" y="761.5" text-anchor="middle" font-size="26">-40</text><line x1="647.8" y1="722.95" x2="647.8" y2="730.5500000000001" stroke="#000" stroke-width="3.4"/><text x="648.9" y="761.5" text-anchor="middle" font-size="26">0</text><line x1="747.7" y1="722.95" x2="747.7" y2="730.5500000000001" stroke="#000" stroke-width="3.4"/><text x="746.8" y="761.5" text-anchor="middle" font-size="26">40</text><line x1="847.8" y1="722.95" x2="847.8" y2="730.5500000000001" stroke="#000" stroke-width="3.4"/><text x="848.9" y="761.5" text-anchor="middle" font-size="26">80</text><text x="647.5" y="792.8" text-anchor="middle" font-size="26">Component 1 (41.3%)</text><text transform="translate(399.8,562.1) rotate(-90)" text-anchor="middle" font-size="26">Component 2 (14.2%)</text><g font-size="19"><rect x="505.2" y="511.8" width="15.6" height="15.6" fill="#d9d9d9" stroke="#222" stroke-width="1.3"/><rect x="504.2" y="677.4" width="15.6" height="15.6" fill="#d9d9d9" stroke="#222" stroke-width="1.3"/><rect x="515.0" y="692.9" width="15.6" height="15.6" fill="#d9d9d9" stroke="#222" stroke-width="1.3"/><rect x="738.3" y="491.3" width="15.6" height="15.6" fill="#d9d9d9" stroke="#222" stroke-width="1.3"/><rect x="760.0" y="509.4" width="15.6" height="15.6" fill="#d9d9d9" stroke="#222" stroke-width="1.3"/><rect x="820.0" y="537.3" width="15.6" height="15.6" fill="#d9d9d9" stroke="#222" stroke-width="1.3"/><circle cx="555.2" cy="426.7" r="7.8" fill="#d9d9d9" stroke="#222" stroke-width="1.3"/><circle cx="473.2" cy="557.4" r="7.8" fill="#d9d9d9" stroke="#222" stroke-width="1.3"/><circle cx="497" cy="604" r="7.8" fill="#d9d9d9" stroke="#222" stroke-width="1.3"/><circle cx="731.7" cy="550.8" r="7.8" fill="#d9d9d9" stroke="#222" stroke-width="1.3"/><circle cx="782.8" cy="621" r="7.8" fill="#d9d9d9" stroke="#222" stroke-width="1.3"/><circle cx="847.1" cy="707.8" r="7.8" fill="#d9d9d9" stroke="#222" stroke-width="1.3"/><text x="513.7" y="549.5" fill="#808080">FL12</text><text x="473.7" y="669.5" fill="#808080">FL13</text><text x="536.2" y="712.0" fill="#808080">FL15</text><text x="713.7" y="484.0" fill="#808080">FL11</text><text x="768.7" y="507.5" fill="#808080">FL10</text><text x="820.7" y="532.5" fill="#808080">FL9</text><text x="553.2" y="455.0" fill="#3a7cc0">FL12</text><text x="476.2" y="584.5" fill="#3a7cc0">FL13</text><text x="506.2" y="626.5" fill="#3a7cc0">FL15</text><text x="687.2" y="544.0" fill="#3a7cc0">FL11</text><text x="739.7" y="613.5" fill="#3a7cc0">FL10</text><text x="814.7" y="696.0" fill="#3a7cc0">FL9</text></g><g transform="translate(469.2,399.2) scale(1.177,0.992) translate(-391.8,-185.3)"><g transform="translate(0,0) scale(1.0,1.0)"><path d="M394.6,212 C393.6,200 395.5,186 405.2,185.4 C414.5,185 418.3,197 418.1,209 L407.2,242.3 Z" fill="url(#flg)" stroke="#222" stroke-width="1.10"/><path d="M405.2,249.5 L405.6,259.4 L411.2,259.4 L411.7,249.5 Z" fill="#f6f6f6" stroke="#222" stroke-width="1.10"/><path d="M394.5,210.6 C390.0,214 390.5,232 395.0,241 C398.2,247.5 403.0,250.5 407.5,250.3 C413.0,250 419.0,245 421.2,235 C423.0,225 422.0,212 418.3,207.9 C413.5,212.5 410.0,228 407.2,242.3 C404.2,229 399.5,214 394.5,210.6 Z" fill="url(#flg)" stroke="#222" stroke-width="1.10"/></g></g><line x1="970.5" y1="414.7" x2="970.5" y2="722.4" stroke="#000" stroke-width="3"/><line x1="971.3" y1="722.4" x2="1382.5" y2="722.4" stroke="#000" stroke-width="3.6"/><line x1="962.4" y1="426.3" x2="970.5" y2="426.3" stroke="#000" stroke-width="3.4"/><text x="953.8" y="433.5" text-anchor="end" font-size="26">80</text><line x1="962.4" y1="498.9" x2="970.5" y2="498.9" stroke="#000" stroke-width="3.4"/><text x="953.8" y="510.1" text-anchor="end" font-size="26">40</text><line x1="962.4" y1="571.4" x2="970.5" y2="571.4" stroke="#000" stroke-width="3.4"/><text x="954.6" y="582.8" text-anchor="end" font-size="26">0</text><line x1="962.4" y1="644.0" x2="970.5" y2="644.0" stroke="#000" stroke-width="3.4"/><text x="954.6" y="655.2" text-anchor="end" font-size="26">-40</text><line x1="962.4" y1="716.6" x2="970.5" y2="716.6" stroke="#000" stroke-width="3.4"/><text x="954.6" y="727.6" text-anchor="end" font-size="26">-80</text><line x1="1050.3" y1="722.4" x2="1050.3" y2="730.0" stroke="#000" stroke-width="3.4"/><text x="1049.5" y="761.5" text-anchor="middle" font-size="26">-40</text><line x1="1141.6" y1="722.4" x2="1141.6" y2="730.0" stroke="#000" stroke-width="3.4"/><text x="1145.1" y="761.5" text-anchor="middle" font-size="26">0</text><line x1="1233.2" y1="722.4" x2="1233.2" y2="730.0" stroke="#000" stroke-width="3.4"/><text x="1232.8" y="761.5" text-anchor="middle" font-size="26">40</text><line x1="1324.4" y1="722.4" x2="1324.4" y2="730.0" stroke="#000" stroke-width="3.4"/><text x="1324.7" y="761.5" text-anchor="middle" font-size="26">80</text><text x="1161.6" y="792.8" text-anchor="middle" font-size="26">Component 1 (25.7%)</text><text transform="translate(908.0,572.4) rotate(-90)" text-anchor="middle" font-size="26">Component 2 (19.1%)</text><g font-size="19"><rect x="983.3" y="527.6" width="15.7" height="15.9" fill="#7b512c"/><rect x="1019.9" y="515.4" width="15.7" height="15.9" fill="#7b512c"/><rect x="1120.3" y="519.0" width="15.7" height="15.9" fill="#7b512c"/><rect x="1274.3" y="589.4" width="15.7" height="15.9" fill="#7b512c"/><rect x="1274.3" y="669.0" width="15.7" height="15.9" fill="#7b512c"/><circle cx="990" cy="555.8" r="8" fill="#7b512c"/><circle cx="1034.9" cy="543.9" r="8" fill="#7b512c"/><circle cx="1079.1" cy="557.9" r="8" fill="#7b512c"/><circle cx="1241.1" cy="586.9" r="8" fill="#7b512c"/><circle cx="1364.2" cy="616" r="8" fill="#7b512c"/><rect x="1067.2" y="689.9" width="15.8" height="15.8" fill="none" stroke="#643511" stroke-width="3.3"/><rect x="1085.0" y="603.2" width="15.8" height="15.8" fill="none" stroke="#643511" stroke-width="3.3"/><rect x="1143.4" y="529.1" width="15.8" height="15.8" fill="none" stroke="#643511" stroke-width="3.3"/><rect x="1169.1" y="504.8" width="15.8" height="15.8" fill="none" stroke="#643511" stroke-width="3.3"/><rect x="1205.6" y="492.7" width="15.8" height="15.8" fill="none" stroke="#643511" stroke-width="3.3"/><circle cx="1073.3" cy="708.5" r="7.8" fill="none" stroke="#643511" stroke-width="3.3"/><circle cx="1107.6" cy="642.1" r="7.8" fill="none" stroke="#643511" stroke-width="3.3"/><circle cx="1112.3" cy="577.9" r="7.8" fill="none" stroke="#643511" stroke-width="3.3"/><circle cx="1160.6" cy="504.3" r="7.8" fill="none" stroke="#643511" stroke-width="3.3"/><circle cx="1254.3" cy="426.4" r="7.8" fill="none" stroke="#643511" stroke-width="3.3"/><text x="975.7" y="521.8" fill="#808080">SQ1</text><text x="1020.2" y="509.8" fill="#808080">SQ2</text><text x="1100.7" y="513.8" fill="#808080">SQ3</text><text x="1262.7" y="587.3" fill="#808080">SQ4</text><text x="1262.7" y="666.3" fill="#808080">SQ5</text><text x="1026.2" y="698.0" fill="#808080">EB6</text><text x="1047.2" y="622.0" fill="#808080">EB7</text><text x="1142.2" y="566.0" fill="#808080">EB8</text><text x="1173.2" y="543.5" fill="#808080">EB9</text><text x="1214.2" y="527.5" fill="#808080">EB10</text><text x="983.2" y="583.3" fill="#3a7cc0">SQ1</text><text x="1023.2" y="568.8" fill="#3a7cc0">SQ2</text><text x="1060.2" y="582.3" fill="#3a7cc0">SQ3</text><text x="1217.7" y="612.8" fill="#3a7cc0">SQ4</text><text x="1336.2" y="642.8" fill="#3a7cc0">SQ5</text><text x="1087.7" y="718.5" fill="#3a7cc0">EB6</text><text x="1100.7" y="669.5" fill="#3a7cc0">EB7</text><text x="1120.2" y="600.5" fill="#3a7cc0">EB8</text><text x="1143.7" y="492.5" fill="#3a7cc0">EB9</text><text x="1229.7" y="454.0" fill="#3a7cc0">EB10</text></g><g transform="translate(984.3,399.4) scale(1.1053,1.0293) translate(-605,-186.8)"><path d="M607.3,187.6 C608.6,186.3 612.2,186.4 613.9,188.6 C614.9,191.5 614.6,215 613.9,236 C613.4,248 611.8,253.8 609.6,255.8 L609.2,258.6 L608.7,255.9 C606.4,254.8 605.3,249 605.2,238 C605.0,218 605.4,196 607.3,187.6 Z" fill="url(#hullg)" stroke="#1a1a1a" stroke-width="1.10"/><path d="M611.6,190 C611.9,210 611.8,235 610.8,252" fill="none" stroke="#3a2a1a" stroke-width="0.77"/><path d="M606.8,200 C606.5,215 606.6,235 607.0,248" fill="none" stroke="#777" stroke-width="0.55"/></g><ellipse cx="1016.05" cy="435.95" rx="12.25" ry="18.25" fill="url(#seedo)" stroke="#1a1a1a" stroke-width="1.10"/><ellipse cx="1015.45" cy="436.55" rx="9.74" ry="15.67" fill="url(#seedg)" stroke="#1a1a1a" stroke-width="0.88"/><path d="M1018.83,421.40 C1023.01,428.49 1023.01,444.34 1018.33,451.43" fill="none" stroke="#1a0e04" stroke-width="0.88"/><line x1="1483.1" y1="414.7" x2="1483.1" y2="722.9" stroke="#000" stroke-width="3"/><line x1="1483.8999999999999" y1="722.9" x2="1895.9" y2="722.9" stroke="#000" stroke-width="3.6"/><line x1="1475.0" y1="459.0" x2="1483.1" y2="459.0" stroke="#000" stroke-width="3.4"/><text x="1468.0" y="469.6" text-anchor="end" font-size="26">100</text><line x1="1475.0" y1="636.7" x2="1483.1" y2="636.7" stroke="#000" stroke-width="3.4"/><text x="1468.4" y="646.9" text-anchor="end" font-size="26">0</text><line x1="1569.2" y1="722.9" x2="1569.2" y2="730.5" stroke="#000" stroke-width="3.4"/><text x="1572.2" y="761.5" text-anchor="middle" font-size="26">-50</text><line x1="1663.5" y1="722.9" x2="1663.5" y2="730.5" stroke="#000" stroke-width="3.4"/><text x="1666.3" y="761.5" text-anchor="middle" font-size="26">0</text><line x1="1758.1" y1="722.9" x2="1758.1" y2="730.5" stroke="#000" stroke-width="3.4"/><text x="1760.3" y="761.5" text-anchor="middle" font-size="26">50</text><line x1="1852.9" y1="722.9" x2="1852.9" y2="730.5" stroke="#000" stroke-width="3.4"/><text x="1853.9" y="761.5" text-anchor="middle" font-size="26">100</text><text x="1675.4" y="792.8" text-anchor="middle" font-size="26">Component 1 (39%)</text><text transform="translate(1425.5,572.4) rotate(-90)" text-anchor="middle" font-size="26">Component 2 (17.4%)</text><g font-size="19"><rect x="1494.9" y="613.3" width="16.2" height="16.2" fill="#228b22" fill-opacity="0.75"/><rect x="1543.3" y="630.4" width="16.2" height="16.2" fill="#228b22" fill-opacity="0.75"/><rect x="1555.6" y="637.1" width="16.2" height="16.2" fill="#228b22" fill-opacity="0.75"/><rect x="1622.1" y="642.3" width="16.2" height="16.2" fill="#228b22" fill-opacity="0.75"/><rect x="1587.5" y="689.1" width="16.2" height="16.2" fill="#228b22" fill-opacity="0.75"/><rect x="1624.1" y="677.3" width="16.2" height="16.2" fill="#228b22" fill-opacity="0.75"/><rect x="1661.7" y="677.1" width="16.2" height="16.2" fill="#228b22" fill-opacity="0.75"/><rect x="1696.5" y="678.5" width="16.2" height="16.2" fill="#228b22" fill-opacity="0.75"/><rect x="1699.4" y="660.0" width="16.2" height="16.2" fill="#228b22" fill-opacity="0.75"/><rect x="1697.6" y="648.9" width="16.2" height="16.2" fill="#228b22" fill-opacity="0.75"/><rect x="1728.2" y="623.7" width="16.2" height="16.2" fill="#228b22" fill-opacity="0.75"/><rect x="1746.2" y="583.8" width="16.2" height="16.2" fill="#228b22" fill-opacity="0.75"/><rect x="1869.1" y="418.5" width="16.2" height="16.2" fill="#228b22" fill-opacity="0.75"/><circle cx="1505.9" cy="530" r="8.3" fill="#228b22" fill-opacity="0.75"/><circle cx="1530.7" cy="552.2" r="8.3" fill="#228b22" fill-opacity="0.75"/><circle cx="1551.4" cy="576.6" r="8.3" fill="#228b22" fill-opacity="0.75"/><circle cx="1589.3" cy="612.9" r="8.3" fill="#228b22" fill-opacity="0.75"/><circle cx="1605.6" cy="633.2" r="8.3" fill="#228b22" fill-opacity="0.75"/><circle cx="1630.2" cy="659.3" r="8.3" fill="#228b22" fill-opacity="0.75"/><circle cx="1656.9" cy="674.9" r="8.3" fill="#228b22" fill-opacity="0.75"/><circle cx="1698.4" cy="692.2" r="8.3" fill="#228b22" fill-opacity="0.75"/><circle cx="1740.3" cy="698.9" r="8.3" fill="#228b22" fill-opacity="0.75"/><circle cx="1729.1" cy="707.6" r="8.3" fill="#228b22" fill-opacity="0.75"/><circle cx="1764.8" cy="686.6" r="8.3" fill="#228b22" fill-opacity="0.75"/><circle cx="1796.7" cy="667.7" r="8.3" fill="#228b22" fill-opacity="0.75"/><circle cx="1831.2" cy="595.7" r="8.3" fill="#228b22" fill-opacity="0.75"/><text x="1487.2" y="612.0" fill="#808080">LF12</text><text x="1503.2" y="650.0" fill="#808080">LF11</text><text x="1527.7" y="670.0" fill="#808080">LF10</text><text x="1589.2" y="661.0" fill="#808080">LF9</text><text x="1553.2" y="712.0" fill="#808080">LF8</text><text x="1609.2" y="712.0" fill="#808080">LF7</text><text x="1645.2" y="709.0" fill="#808080">LF6</text><text x="1714.7" y="690.0" fill="#808080">LF5</text><text x="1718.7" y="669.0" fill="#808080">LF4</text><text x="1689.7" y="647.0" fill="#808080">LF3</text><text x="1712.2" y="620.0" fill="#808080">LF1</text><text x="1747.7" y="578.0" fill="#808080">LF2</text><text x="1852.2" y="455.5" fill="#808080">LFCT</text><text x="1490.2" y="520.5" fill="#3a7cc0">LF12</text><text x="1522.2" y="543.0" fill="#3a7cc0">LF11</text><text x="1546.7" y="567.0" fill="#3a7cc0">LF10</text><text x="1583.2" y="604.0" fill="#3a7cc0">LF9</text><text x="1602.7" y="625.5" fill="#3a7cc0">LF8</text><text x="1637.2" y="651.0" fill="#3a7cc0">LF7</text><text x="1661.7" y="669.0" fill="#3a7cc0">LF6</text><text x="1681.2" y="716.5" fill="#3a7cc0">LF5</text><text x="1747.2" y="706.0" fill="#3a7cc0">LF4</text><text x="1734.7" y="721.0" fill="#3a7cc0">LF3</text><text x="1755.7" y="676.0" fill="#3a7cc0">LF1</text><text x="1785.7" y="654.5" fill="#3a7cc0">LF2</text><text x="1812.7" y="625.5" fill="#3a7cc0">LFCT</text></g><g transform="translate(1507.1,399.2) scale(1.06,1.017) translate(-30.5,-186.3)"><g transform="translate(0,0) scale(1.0,1.0)"><path d="M64.40,187.00 C64.50,187.90 64.03,189.90 63.00,191.60 C61.97,193.30 59.57,195.60 58.20,197.20 C56.83,198.80 56.07,199.60 54.80,201.20 C53.53,202.80 51.78,205.07 50.60,206.80 C49.42,208.53 48.48,209.93 47.70,211.60 C46.92,213.27 46.33,215.05 45.90,216.80 C45.47,218.55 45.42,220.48 45.10,222.10 C44.78,223.72 44.68,225.25 44.00,226.50 C43.32,227.75 42.02,228.57 41.00,229.60 C39.98,230.63 38.62,231.63 37.90,232.70 C37.18,233.77 36.78,234.60 36.70,236.00 C36.62,237.40 36.85,239.03 37.40,241.10 C37.95,243.17 39.00,245.83 40.00,248.40 C41.00,250.97 42.68,254.80 43.40,256.50 C44.12,258.20 44.37,258.15 44.30,258.60 C44.23,259.05 43.52,259.33 43.00,259.20 C42.48,259.07 42.40,259.42 41.20,257.80 C40.00,256.18 37.37,252.63 35.80,249.50 C34.23,246.37 32.67,243.03 31.80,239.00 C30.93,234.97 30.50,229.52 30.60,225.30 C30.70,221.08 31.57,216.87 32.40,213.70 C33.23,210.53 34.47,208.58 35.60,206.30 C36.73,204.02 37.23,202.28 39.20,200.00 C41.17,197.72 44.47,194.53 47.40,192.60 C50.33,190.67 54.30,189.47 56.80,188.40 C59.30,187.33 61.13,186.43 62.40,186.20 C63.67,185.97 64.30,186.10 64.40,187.00 Z" fill="url(#leafg)" stroke="#111" stroke-width="1.20" stroke-linejoin="round"/></g></g></svg></body></html>
